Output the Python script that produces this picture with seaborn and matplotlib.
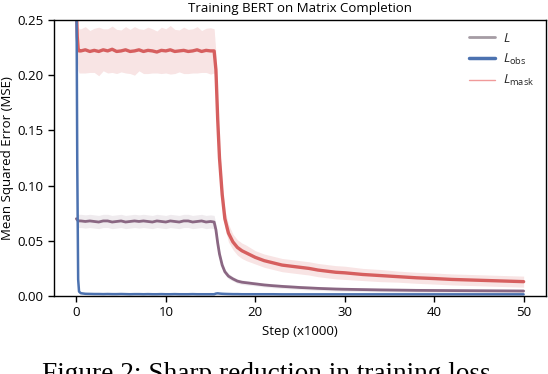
import numpy as np
import pandas as pd
import matplotlib
matplotlib.use("Agg")
import matplotlib.pyplot as plt
from matplotlib.lines import Line2D
import seaborn as sns

# training steps (x1000), shared by all three curves
steps = [0, 0.1, 0.2, 0.3,
         0.5, 1.0, 1.5, 2.0, 2.5, 3.0, 3.5, 4.0, 4.5, 5.0,
         5.5, 6.0, 6.5, 7.0, 7.5, 8.0, 8.5, 9.0, 9.5, 10.0,
         10.5, 11.0, 11.5, 12.0, 12.5, 13.0, 13.5, 14.0, 14.5, 15.0,
         15.4, 15.6, 15.8, 16.0, 16.3, 16.6, 17.0, 17.5, 18.0, 18.5, 19.0,
         20, 21, 22, 23, 24, 25, 26, 27, 28, 29, 30,
         32, 34, 36, 38, 40, 42, 44, 46, 48, 50]

loss_mask = [0.262, 0.235, 0.224, 0.222,
             0.222, 0.223, 0.2215, 0.2225, 0.2215, 0.223, 0.222, 0.2235, 0.2215, 0.222,
             0.223, 0.2215, 0.222, 0.223, 0.2215, 0.2225, 0.222, 0.221, 0.2225, 0.222,
             0.223, 0.2215, 0.222, 0.2225, 0.2215, 0.222, 0.223, 0.2215, 0.2225, 0.222,
             0.222, 0.205, 0.160, 0.125, 0.092, 0.070, 0.057, 0.049, 0.044, 0.041, 0.039,
             0.035, 0.032, 0.030, 0.028, 0.027, 0.026, 0.025, 0.0235, 0.0225, 0.0215, 0.021,
             0.0195, 0.0185, 0.0175, 0.0165, 0.0158, 0.015, 0.0145, 0.014, 0.0135, 0.013]
band_mask = [0.02, 0.02, 0.02, 0.02,
             0.020, 0.021, 0.019, 0.020, 0.022, 0.019, 0.020, 0.021, 0.020, 0.019,
             0.021, 0.020, 0.022, 0.019, 0.020, 0.021, 0.020, 0.019, 0.021, 0.020,
             0.022, 0.020, 0.019, 0.021, 0.020, 0.020, 0.021, 0.019, 0.020, 0.021,
             0.020, 0.015, 0.012, 0.010, 0.009, 0.008, 0.008, 0.007, 0.007, 0.007, 0.007,
             0.006, 0.006, 0.006, 0.006, 0.006, 0.006, 0.006, 0.006, 0.006, 0.006, 0.006,
             0.0055, 0.0055, 0.005, 0.005, 0.005, 0.005, 0.005, 0.005, 0.005, 0.005]

loss_total = [0.070, 0.069, 0.068, 0.068,
              0.068, 0.0675, 0.068, 0.0675, 0.067, 0.068, 0.068, 0.067, 0.0675, 0.068,
              0.067, 0.0675, 0.068, 0.0675, 0.068, 0.0675, 0.067, 0.068, 0.0675, 0.067,
              0.068, 0.0675, 0.067, 0.068, 0.068, 0.067, 0.0675, 0.068, 0.067, 0.0675,
              0.067, 0.060, 0.048, 0.038, 0.028, 0.022, 0.018, 0.0155, 0.0135, 0.0125, 0.012,
              0.011, 0.0100, 0.0093, 0.0087, 0.0082, 0.0077, 0.0073, 0.0069, 0.0066, 0.0063, 0.0061,
              0.0058, 0.0055, 0.0053, 0.0051, 0.0050, 0.0049, 0.0048, 0.0047, 0.0046, 0.0045]
band_total = [0.006] * 34 + [0.006, 0.005, 0.004, 0.003, 0.003, 0.0025, 0.0025,
                             0.002, 0.002, 0.002, 0.002] + [0.0018] * 21

loss_obs = [0.300, 0.120, 0.015, 0.004,
            0.0025, 0.0020, 0.0019, 0.0018, 0.0018, 0.0017, 0.0018, 0.0017, 0.0017, 0.0018,
            0.0017, 0.0016, 0.0017, 0.0017, 0.0016, 0.0017, 0.0016, 0.0016, 0.0017, 0.0016,
            0.0016, 0.0017, 0.0016, 0.0016, 0.0016, 0.0017, 0.0016, 0.0016, 0.0016, 0.0016,
            0.0016, 0.0022, 0.0024, 0.0022, 0.0020, 0.0019, 0.0018, 0.0017, 0.0017, 0.0016, 0.0016,
            0.0016, 0.0016, 0.0016, 0.0015, 0.0015, 0.0015, 0.0015, 0.0015, 0.0015, 0.0015, 0.0015,
            0.0015, 0.0015, 0.0015, 0.0015, 0.0015, 0.0015, 0.0015, 0.0015, 0.0015, 0.0015]

colors = {"L": "#8a6783", "obs": "#4c72b0", "mask": "#d65f5f"}

sns.set_theme(style="ticks")
plt.rcParams["font.family"] = ["Open Sans", "DejaVu Sans"]
plt.rcParams["mathtext.fontset"] = "custom"
plt.rcParams["mathtext.rm"] = "Open Sans"
plt.rcParams["mathtext.it"] = "Open Sans:italic"

df = pd.DataFrame({"step": steps, "L": loss_total, "obs": loss_obs, "mask": loss_mask})
x = np.array(steps)

fig = plt.figure(figsize=(5.48, 3.74), dpi=100)
ax = fig.add_axes([54 / 548, 1 - 296 / 374, 492 / 548, 276 / 374])

# light noise envelopes
ax.fill_between(x, np.array(loss_mask) - band_mask, np.array(loss_mask) + band_mask,
                color=colors["mask"], alpha=0.17, linewidth=0)
ax.fill_between(x, np.array(loss_total) - band_total, np.array(loss_total) + band_total,
                color=colors["L"], alpha=0.13, linewidth=0)

sns.lineplot(data=df, x="step", y="L", ax=ax, color=colors["L"], linewidth=2.0)
sns.lineplot(data=df, x="step", y="mask", ax=ax, color=colors["mask"], linewidth=2.4)
sns.lineplot(data=df, x="step", y="obs", ax=ax, color=colors["obs"], linewidth=1.8)

ax.set_ylim(0, 0.25)
ax.set_xlim(-2.5, 52.5)
ax.set_xticks([0, 10, 20, 30, 40, 50])
ax.set_yticks([0.0, 0.05, 0.10, 0.15, 0.20, 0.25])
ax.set_yticklabels(["0.00", "0.05", "0.10", "0.15", "0.20", "0.25"])
ax.tick_params(labelsize=9.5, length=4, width=1, color="black", labelcolor="black")
for sp in ax.spines.values():
    sp.set_color("black")
    sp.set_linewidth(1)

ax.set_title("Training BERT on Matrix Completion", fontsize=9.5, color="black")
ax.set_xlabel("Step (x1000)", fontsize=9.5, color="black")
ax.set_ylabel("Mean Squared Error (MSE)", fontsize=9.5, color="black", labelpad=2.5)

handles = [Line2D([], [], color="#a59ca4", linewidth=2),
           Line2D([], [], color=colors["obs"], linewidth=2.5),
           Line2D([], [], color="#f09a9a", linewidth=1)]
labels = [r"$L$", r"$L_{\mathrm{obs}}$", r"$L_{\mathrm{mask}}$"]
ax.legend(handles, labels, loc="upper right", frameon=False, fontsize=9.5,
          handlelength=2, handletextpad=0.6, labelspacing=0.5)

fig.text(42 / 548, -0.019, "Figure 2: Sharp reduction in training loss",
         family=["Liberation Serif"], fontsize=19.6, color="black",
         ha="left", va="baseline")

fig.savefig("out.png", dpi=100)
